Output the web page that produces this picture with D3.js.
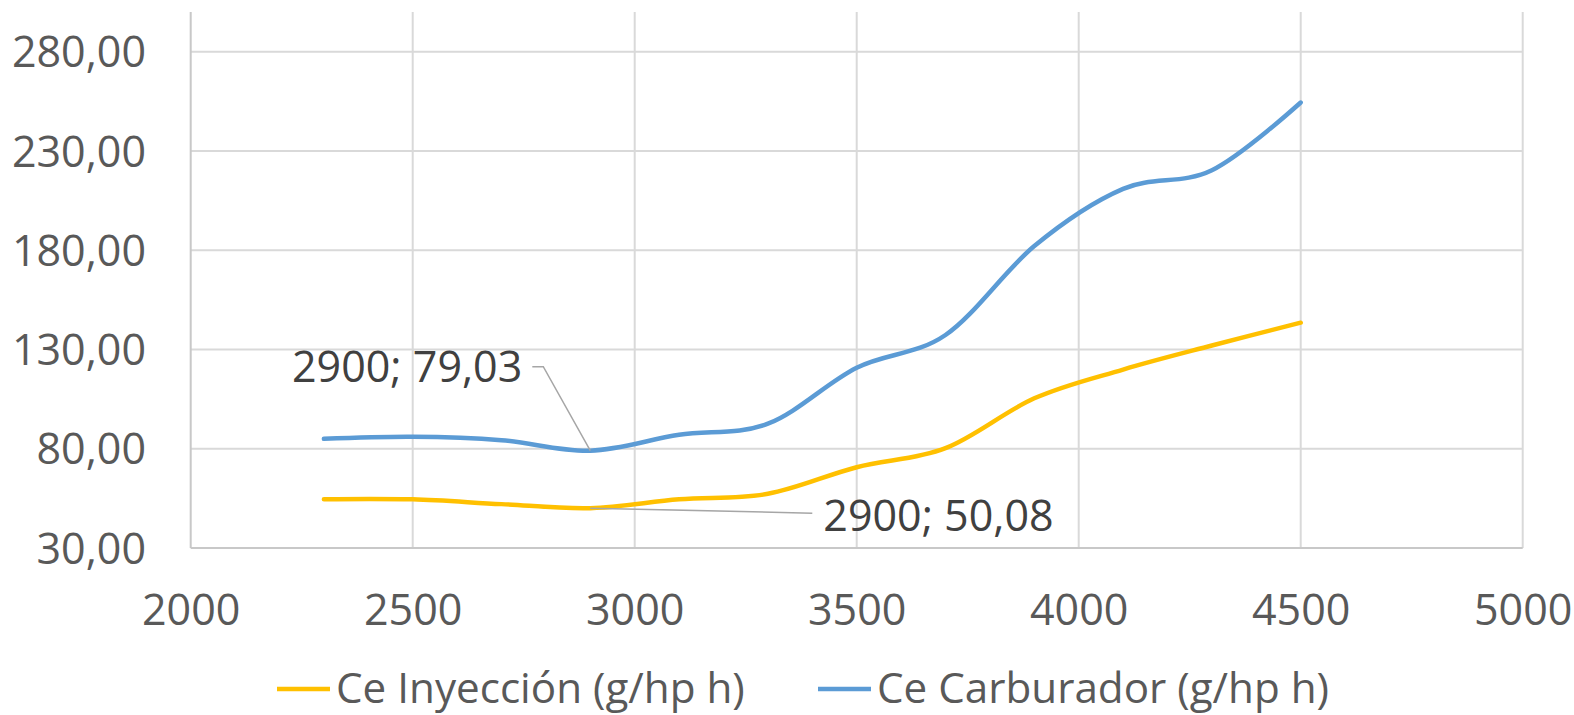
<!DOCTYPE html>
<html>
<head>
<meta charset="utf-8">
<script src="https://cdn.jsdelivr.net/npm/d3@7"></script>
<style>
  html, body { margin: 0; padding: 0; background: #fff; }
  svg { display: block; font-family: "Open Sans", "Noto Sans", sans-serif; }
</style>
</head>
<body>
<svg id="chart" width="1574" height="715"></svg>
<script>
// Engine speed (rpm) and specific fuel consumption (g/hp h)
const rpm = [2300, 2500, 2700, 2900, 3100, 3300, 3500, 3700, 3900, 4100, 4300, 4500];
const ceInyeccion = [54.6, 54.5, 52.1, 50.08, 54.5, 57.3, 70.7, 80.3, 105.4, 119.9, 132.0, 143.5];
const ceCarburador = [85.0, 86.0, 84.3, 79.03, 87.0, 92.6, 120.8, 137.3, 182.1, 210.9, 220.3, 254.4];

const xTicks = [2000, 2500, 3000, 3500, 4000, 4500, 5000];
const yTicks = [30, 80, 130, 180, 230, 280];

const seriesNames = ["Ce Inyección (g/hp h)", "Ce Carburador (g/hp h)"];
const seriesColors = ["#FFC000", "#5B9BD5"];

// Highlighted point: 2900 rpm on both curves
const markIndex = 3;

const svg = d3.select("#chart");

const x = d3.scaleLinear().domain([2000, 5000]).range([190.7, 1522.7]);
const y = d3.scaleLinear().domain([30, 300]).range([548, 12]);

const fmtY = v => d3.format(".2f")(v).replace(".", ",");
const fmtVal = v => d3.format(".2f")(v).replace(".", ",");

// Gridlines
const grid = svg.append("g");
grid.selectAll("line.h").data(yTicks.slice(1)).join("line")
  .attr("x1", x(2000)).attr("x2", x(5000))
  .attr("y1", d => y(d)).attr("y2", d => y(d))
  .attr("stroke", "#d9d9d9").attr("stroke-width", 2);
grid.selectAll("line.v").data(xTicks.slice(1)).join("line")
  .attr("x1", d => x(d)).attr("x2", d => x(d))
  .attr("y1", y(300)).attr("y2", y(30))
  .attr("stroke", "#d9d9d9").attr("stroke-width", 2);

// Axes lines
svg.append("line")
  .attr("x1", x(2000)).attr("x2", x(2000)).attr("y1", y(300)).attr("y2", y(30))
  .attr("stroke", "#c8c8c8").attr("stroke-width", 2);
svg.append("line")
  .attr("x1", x(2000)).attr("x2", x(5000)).attr("y1", y(30)).attr("y2", y(30))
  .attr("stroke", "#c8c8c8").attr("stroke-width", 2);

// Y tick labels
const yAxis = d3.axisLeft(y).tickValues(yTicks).tickFormat(fmtY).tickSize(0).tickPadding(0);
const gy = svg.append("g").attr("transform", `translate(146,0)`).call(yAxis);
gy.select(".domain").remove();
gy.selectAll("text")
  .attr("fill", "#595959").attr("font-size", 43)
  .attr("font-family", "'Open Sans', sans-serif")
  .attr("dy", "0.35em").attr("x", 0);

// X tick labels
const xAxis = d3.axisBottom(x).tickValues(xTicks).tickFormat(d3.format("d")).tickSize(0).tickPadding(0);
const gx = svg.append("g").attr("transform", `translate(0,${y(30)})`).call(xAxis);
gx.select(".domain").remove();
gx.selectAll("text")
  .attr("fill", "#595959").attr("font-size", 43)
  .attr("font-family", "'Open Sans', sans-serif")
  .attr("y", 77).attr("dy", 0);

// Smoothed lines
const line = d3.line()
  .x((d, i) => x(rpm[i]))
  .y(d => y(d))
  .curve(d3.curveCardinal.tension(0));

[ceInyeccion, ceCarburador].forEach((vals, k) => {
  svg.append("path")
    .datum(vals)
    .attr("d", line)
    .attr("fill", "none")
    .attr("stroke", seriesColors[k])
    .attr("stroke-width", 4.5)
    .attr("stroke-linecap", "round")
    .attr("stroke-linejoin", "round");
});

// Data labels with leader lines
const labelColor = "#404040";
const leaderColor = "#a6a6a6";

// Carburador label (upper left)
{
  const px = x(rpm[markIndex]), py = y(ceCarburador[markIndex]);
  svg.append("polyline")
    .attr("points", `${px - 58},${py - 84} ${px - 47},${py - 84} ${px},${py}`)
    .attr("fill", "none").attr("stroke", leaderColor).attr("stroke-width", 1.5);
  svg.append("text")
    .attr("x", px - 68).attr("y", py - 69)
    .attr("text-anchor", "end")
    .attr("fill", labelColor).attr("font-size", 43)
    .text(`${rpm[markIndex]}; ${fmtVal(ceCarburador[markIndex])}`);
}

// Inyección label (lower right)
{
  const px = x(rpm[markIndex]), py = y(ceInyeccion[markIndex]);
  svg.append("line")
    .attr("x1", px).attr("y1", py)
    .attr("x2", px + 222).attr("y2", py + 5)
    .attr("stroke", leaderColor).attr("stroke-width", 1.5);
  svg.append("text")
    .attr("x", px + 233).attr("y", py + 23)
    .attr("text-anchor", "start")
    .attr("fill", labelColor).attr("font-size", 43)
    .text(`${rpm[markIndex]}; ${fmtVal(ceInyeccion[markIndex])}`);
}

// Legend
const legendItems = [
  { name: seriesNames[0], color: seriesColors[0], x0: 277 },
  { name: seriesNames[1], color: seriesColors[1], x0: 818 }
];
const lg = svg.append("g");
legendItems.forEach(it => {
  lg.append("line")
    .attr("x1", it.x0).attr("x2", it.x0 + 53)
    .attr("y1", 689).attr("y2", 689)
    .attr("stroke", it.color).attr("stroke-width", 4.5);
  lg.append("text")
    .attr("x", it.x0 + 59).attr("y", 703)
    .attr("fill", "#595959").attr("font-size", 42.2)
    .text(it.name);
});
</script>
</body>
</html>
